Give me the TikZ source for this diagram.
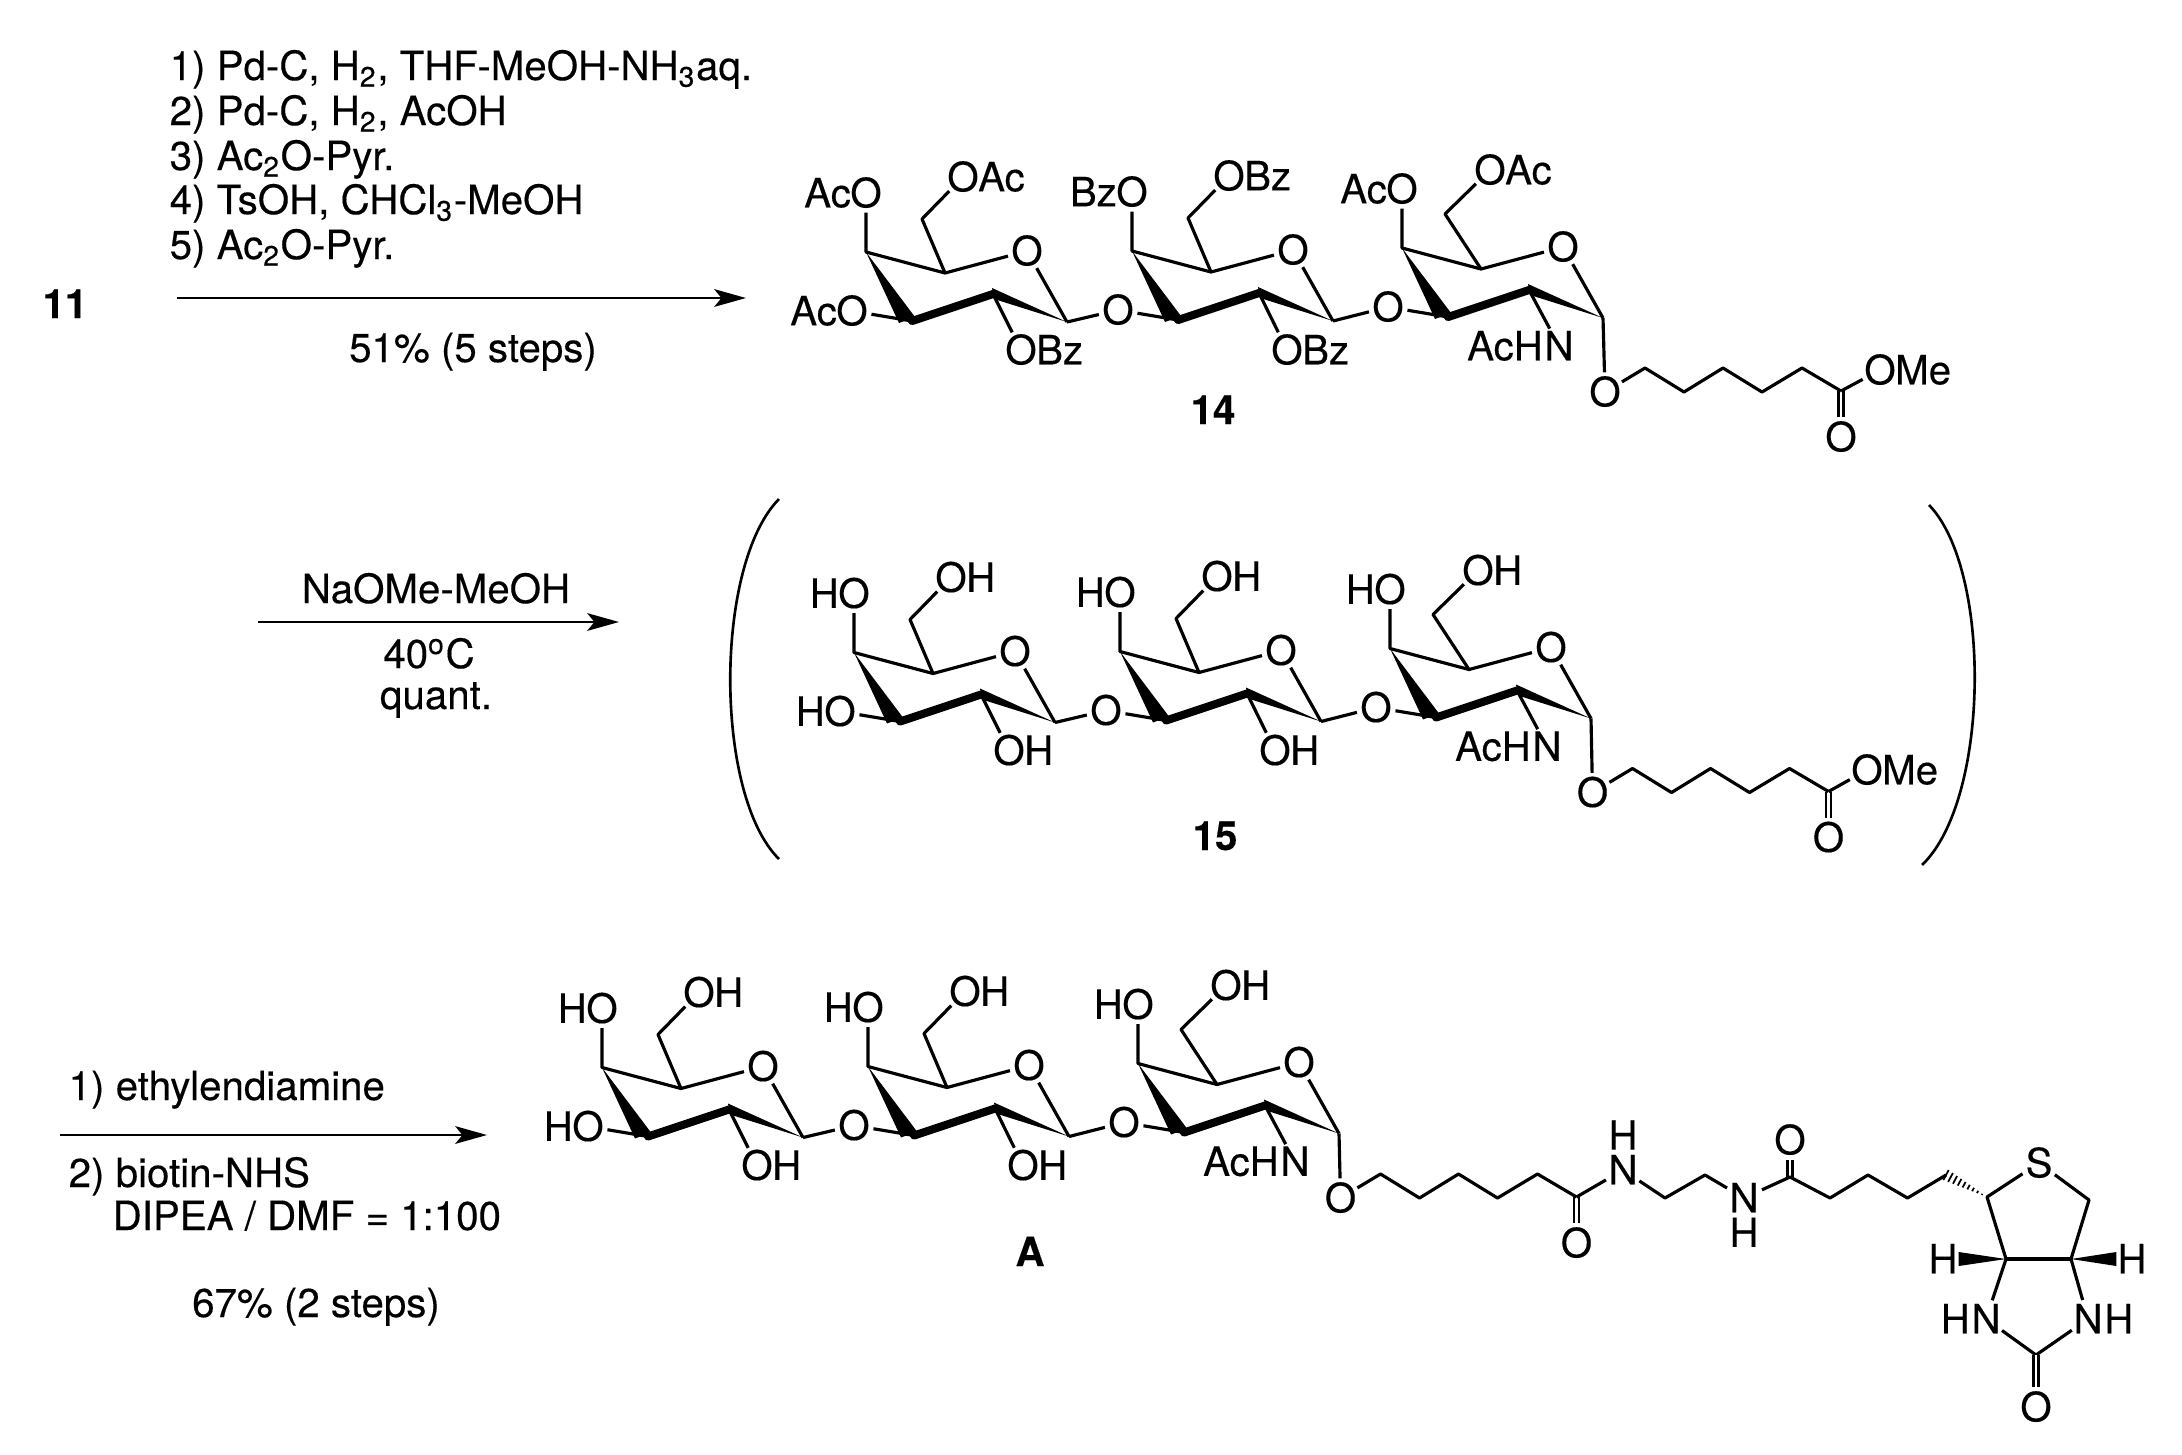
\documentclass[tikz,border=0pt]{standalone}
\usepackage{fontspec}
\setmainfont{TeX Gyre Heros}[RawFeature={embolden=0.3}]
\usetikzlibrary{arrows.meta,calc,positioning}

% one pyranose ring: name, position, then the CH2 and its O
\newcommand{\galring}[4]{
	\begin{scope}[shift={(#2)}]
		\coordinate (#1c4) at (0,0);
		\coordinate (#1c5) at (79,21);
		\coordinate (#1c1) at (201,70);
		\coordinate (#1c2) at (127,42);
		\coordinate (#1c3) at (46,69);
		\coordinate (#1c6) at (#3);
		\node[atom] (#1o) at (161,-1) {O};
		\node[atom] (#1o3) at (-14,59) {O};
		\node[atom] (#1o4) at (0,-59) {O};
		\node[atom] (#1o6) at (#4) {O};
	\end{scope}
	\draw[bond] (#1o4) -- (#1c4) -- (#1c5) -- (#1o) -- (#1c1);
	\draw[bond] (#1c5) -- (#1c6) -- (#1o6);
	\draw[bond] (#1o3) -- (#1c3);
	\fill (#1c4) -- ([shift={(-13,2)}]#1c3) -- ([shift={(3,-4)}]#1c3) -- cycle;
	\draw[boldbond] (#1c3) -- (#1c2);
	\fill ([shift={(-1,-6)}]#1c2) -- (#1c1) -- ([shift={(1,5)}]#1c2) -- cycle;
}

% the three rings: name, shift, group on rings 1 and 3, group on ring 2
\newcommand{\glycan}[4]{
	\begin{scope}[shift={(#2)}]
		\galring{#1r1}{866,252}{56,-33}{97,-75}
		\galring{#1r2}{1132,251}{56,-33}{97,-75}
		\galring{#1r3}{1402,248}{43,-34}{88,-78}
		\node[atom] (#1o2a) at (1021,350) {O};
		\node[atom] (#1o2b) at (1287,350) {O};
		\node[atom] (#1n) at (1559,346) {N};
	\end{scope}
	\node[grp,left=-1.5pt of #1r1o4] (#1g1) {#3};
	\node[grp,right=-1.5pt of #1r1o6] (#1g2) {#3};
	\node[grp,left=-1.5pt of #1r1o3] (#1g3) {#3};
	\node[grp,left=-1.5pt of #1r2o4] (#1g4) {#4};
	\node[grp,right=-1.5pt of #1r2o6] (#1g5) {#4};
	\node[grp,left=-1.5pt of #1r3o4] (#1g6) {#3};
	\node[grp,right=-1.5pt of #1r3o6] (#1g7) {#3};
	\node[grp,right=-1.5pt of #1o2a] (#1g8) {#4};
	\node[grp,right=-1.5pt of #1o2b] (#1g9) {#4};
	\node[grp,left=-1.2pt of #1n] (#1g10) {AcH};
	\draw[bond] (#1r1c2) -- (#1o2a);
	\draw[bond] (#1r2c2) -- (#1o2b);
	\draw[bond] (#1r3c2) -- (#1n);
	\draw[bond] (#1r1c1) -- (#1r2o3);
	\draw[bond] (#1r2c1) -- (#1r3o3);
}

% O-(CH2)5-C=O on ring 3
\newcommand{\linker}[2]{
	\begin{scope}[shift={(#2)}]
		\node[atom] (#1oa) at (1605,392) {O};
		\coordinate (#1ca) at (1645,368);
		\coordinate (#1cb) at (1684,392);
		\coordinate (#1cc) at (1723,368);
		\coordinate (#1cd) at (1762,392);
		\coordinate (#1ce) at (1802,368);
		\coordinate (#1cf) at (1841,391);
		\node[atom] (#1ok) at (1841,437) {O};
	\end{scope}
	\draw[dbond] (#1cf) -- (#1ok);
	\draw[bond] (#1r3c1) -- (#1oa) -- (#1ca) -- (#1cb) -- (#1cc) -- (#1cd) -- (#1ce) -- (#1cf);
}

\begin{document}
\begin{tikzpicture}[x=0.01cm,y=-0.01cm,every node/.style={font=\fontsize{11.45}{12.7}\selectfont}]
	\tikzset{atom/.style = {shape=circle,inner sep=-0.6pt,minimum size=.38cm,text height=8.1pt,text depth=0pt}}
	\tikzset{grp/.style = {inner sep=0pt,text height=8.1pt,text depth=0pt}}
	\tikzset{txt/.style = {anchor=base west,inner sep=0pt}}
	\tikzset{mid/.style = {anchor=base,inner sep=0pt}}
	\tikzset{bond/.style = {line width=0.9pt,line join=round}}
	\tikzset{dbond/.style = {double,double distance=0.7pt,line width=0.7pt}}
	\tikzset{boldbond/.style = {line width=2.3pt,line join=round,line cap=round}}
	\tikzset{hash/.style = {line width=0.5pt}}
	\tikzset{reaction/.style = {line width=0.8pt,-{Stealth[length=9pt,width=5pt,inset=2pt]}}}
	\tikzset{paren/.style = {line width=0.75pt}}
	\useasboundingbox (0,0) rectangle (2182,1454);

	% first step
	\node[mid] (s11) at (65,318) {\bfseries 11};
	\node[txt] (c1a) at (169,80) {1) Pd-C, H\textsubscript{2}, THF-MeOH-NH\textsubscript{3}aq.};
	\node[txt] (c1b) at (169,125) {2) Pd-C, H\textsubscript{2}, AcOH};
	\node[txt] (c1c) at (169,170) {3) Ac\textsubscript{2}O-Pyr.};
	\node[txt] (c1d) at (169,214) {4) TsOH, CHCl\textsubscript{3}-MeOH};
	\node[txt] (c1e) at (169,259) {5) Ac\textsubscript{2}O-Pyr.};
	\node[mid] (c1f) at (473,362) {51\% (5 steps)};
	\coordinate (a1s) at (177,298);
	\coordinate (a1e) at (746,298);
	\draw[reaction] (a1s) -- (a1e);

	% second step
	\node[mid] (c2a) at (436,603) {NaOMe-MeOH};
	\node[mid] (c2b) at (429,668) {40\textsuperscript{o}C};
	\node[mid] (c2c) at (436,709) {quant.};
	\coordinate (a2s) at (258,622);
	\coordinate (a2e) at (619,622);
	\draw[reaction] (a2s) -- (a2e);

	% third step
	\node[txt] (c3a) at (68,1100) {1) ethylendiamine};
	\node[txt] (c3b) at (68,1187) {2) biotin-NHS};
	\node[txt] (c3c) at (112,1230) {DIPEA / DMF = 1:100};
	\node[mid] (c3d) at (316,1317) {67\% (2 steps)};
	\coordinate (a3s) at (60,1135);
	\coordinate (a3e) at (487,1135);
	\draw[reaction] (a3s) -- (a3e);

	% 14
	\glycan{b}{0,0}{Ac}{Bz}
	\linker{b}{0,0}
	\node[atom] (bome) at (1880,370) {O};
	\node[grp,right=-1.5pt of bome] (bme) {Me};
	\draw[bond] (bcf) -- (bome);
	\node[mid] (n14) at (1213,424) {\bfseries 14};

	% 15 in brackets
	\glycan{d}{-12,400.5}{H}{H}
	\linker{d}{-12.5,400.5}
	\node[atom] (dome) at (1867,770) {O};
	\node[grp,right=-1.5pt of dome] (dme) {Me};
	\draw[bond] (dcf) -- (dome);
	\node[mid] (n15) at (1215,850) {\bfseries 15};
	\coordinate (pl1) at (779,499);
	\coordinate (pl2) at (779,859);
	\coordinate (pr1) at (1929,505);
	\coordinate (pr2) at (1922,865);
	\draw[paren] (pl1) .. controls (714,565) and (714,795) .. (pl2);
	\draw[paren] (pr1) .. controls (1992,570) and (1990,800) .. (pr2);

	% A
	\glycan{f}{-264,815.5}{H}{H}
	\linker{f}{-264.5,806}
	\node[mid] (nA) at (1030,1266) {\bfseries A};
	\node[atom] (fna) at (1623,1170) {N};
	\node[grp,above=0pt of fna] (fha) {H};
	\coordinate (fe1) at (1665,1198);
	\coordinate (fe2) at (1705,1175);
	\node[atom] (fnb) at (1744,1198) {N};
	\node[grp,below=0pt of fnb] (fhb) {H};
	\coordinate (fk) at (1790,1177);
	\node[atom] (fokb) at (1790,1140) {O};
	\coordinate (fp1) at (1830,1198);
	\coordinate (fp2) at (1868,1175);
	\coordinate (fp3) at (1907.5,1198);
	\coordinate (fp4) at (1946,1175);
	\draw[dbond] (fk) -- (fokb);
	\draw[bond] (fcf) -- (fna) -- (fe1) -- (fe2) -- (fnb) -- (fk) -- (fp1) -- (fp2) -- (fp3) -- (fp4);

	% biotin rings
	\coordinate (fb1) at (1987,1197);
	\node[atom] (fs) at (2039,1163) {S};
	\coordinate (fb2) at (2089,1200);
	\coordinate (fb3) at (2071,1259);
	\coordinate (fb4) at (2006,1259);
	\node[atom] (fn1) at (1986,1319) {N};
	\node[grp,left=-1.2pt of fn1] (fh1) {H};
	\node[atom] (fn2) at (2088,1319) {N};
	\node[grp,right=-1.2pt of fn2] (fh2) {H};
	\coordinate (fu) at (2036,1355);
	\node[atom] (fou) at (2036,1407) {O};
	\node[atom] (fhl) at (1943,1259) {H};
	\node[atom] (fhr) at (2132,1259) {H};
	\draw[bond] (fb4) -- (fb1) -- (fs) -- (fb2) -- (fb3);
	\draw[bond] (fb4) -- (fn1) -- (fu) -- (fn2) -- (fb3);
	\draw[dbond] (fu) -- (fou);
	\draw[line width=1.1pt] (fb4) -- (fb3);
	\fill (fb4) -- ([shift={(-4,-7)}]fhl.east) -- ([shift={(-4,7)}]fhl.east) -- cycle;
	\fill (fb3) -- ([shift={(4,-7)}]fhr.west) -- ([shift={(4,7)}]fhr.west) -- cycle;
	\foreach \t [evaluate=\t as \w using 1.6*(1-\t)] in {0,0.11,...,0.9}
		\draw[hash] ($(fp4)!\t!(fb1)!\w pt!90:(fb1)$) -- ($(fp4)!\t!(fb1)!\w pt!-90:(fb1)$);
\end{tikzpicture}
\end{document}
